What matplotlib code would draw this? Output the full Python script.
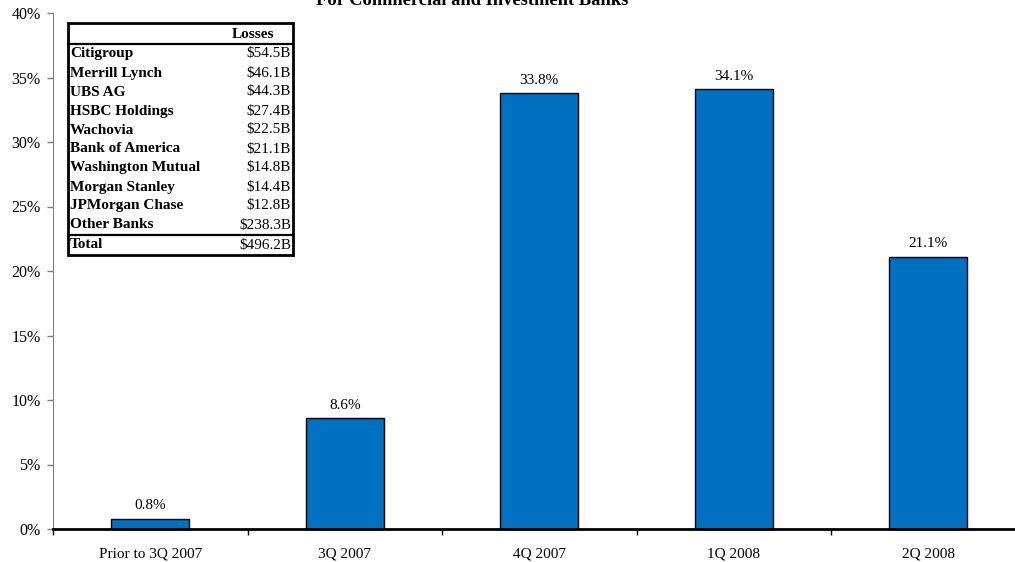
import matplotlib.pyplot as plt
import numpy as np

plt.rcParams['font.family'] = ['Liberation Serif', 'DejaVu Serif']

# bar data
periods = ["Prior to 3Q 2007", "3Q 2007", "4Q 2007", "1Q 2008", "2Q 2008"]
shares = [0.8, 8.6, 33.8, 34.1, 21.1]

# table data
banks = ["Citigroup", "Merrill Lynch", "UBS AG", "HSBC Holdings", "Wachovia",
         "Bank of America", "Washington Mutual", "Morgan Stanley",
         "JPMorgan Chase", "Other Banks"]
losses = ["$54.5B", "$46.1B", "$44.3B", "$27.4B", "$22.5B",
          "$21.1B", "$14.8B", "$14.4B", "$12.8B", "$238.3B"]
total = "$496.2B"

W, H = 1015, 562
fig = plt.figure(figsize=(W / 100, H / 100), dpi=100)
ax = fig.add_axes([53 / W, (H - 529) / H, 5 * 194.5 / W, 516 / H])

x = np.arange(len(periods))
ax.bar(x, shares, width=0.4, color='#0070C0', edgecolor='black', linewidth=1)
for xi, v in zip(x, shares):
    ax.text(xi, v + 0.5, f"{v:.1f}%", ha='center', va='bottom', fontsize=11)

ax.set_xlim(-0.5, len(periods) - 0.5)
ax.set_ylim(0, 40)
ax.set_yticks(range(0, 41, 5))
ax.set_yticklabels([f"{t}%" for t in range(0, 41, 5)], fontsize=11.5)
ax.set_xticks(x)
ax.set_xticklabels(periods, fontsize=11)
ax.set_xticks(np.arange(-0.5, len(periods), 1), minor=True)
ax.tick_params(axis='x', which='major', length=0, pad=13)
ax.tick_params(axis='x', which='minor', length=4, width=1, direction='out')
ax.tick_params(axis='y', length=4, width=1, color='#808080', pad=5)

for s in ['top', 'right']:
    ax.spines[s].set_visible(False)
ax.spines['left'].set_color('#808080')
ax.spines['bottom'].set_linewidth(2)
ax.spines['bottom'].set_zorder(5)

fig.text(472 / W, 1 - 5 / H, "For Commercial and Investment Banks",
         ha='center', va='baseline', fontsize=13.3, fontweight='bold')

# loss table, in pixel positions converted to figure fraction
def fx(px):
    return px / W

def fy(py):
    return 1 - py / H

left, right, top, bottom = 68, 293, 23, 255
box = plt.Rectangle((fx(left), fy(bottom)), fx(right - left), (bottom - top) / H,
                    transform=fig.transFigure, fill=True, facecolor='white',
                    edgecolor='black', linewidth=2, zorder=10)
fig.add_artist(box)
for ly in [44, 235]:
    fig.add_artist(plt.Line2D([fx(left), fx(right)], [fy(ly), fy(ly)],
                              transform=fig.transFigure, color='black',
                              linewidth=1.6, zorder=11))

fs = 11
fig.text(fx(253), fy(34), "Losses", ha='center', va='center', fontsize=fs,
         fontweight='bold', zorder=12)
row_y = 54
for name, val in zip(banks, losses):
    fig.text(fx(70), fy(row_y), name, ha='left', va='center', fontsize=fs,
             fontweight='bold', zorder=12)
    fig.text(fx(291), fy(row_y), val, ha='right', va='center', fontsize=fs,
             zorder=12)
    row_y += 19
fig.text(fx(70), fy(245), "Total", ha='left', va='center', fontsize=fs,
         fontweight='bold', zorder=12)
fig.text(fx(291), fy(245), total, ha='right', va='center', fontsize=fs,
         zorder=12)

fig.savefig("out.png", dpi=100)
